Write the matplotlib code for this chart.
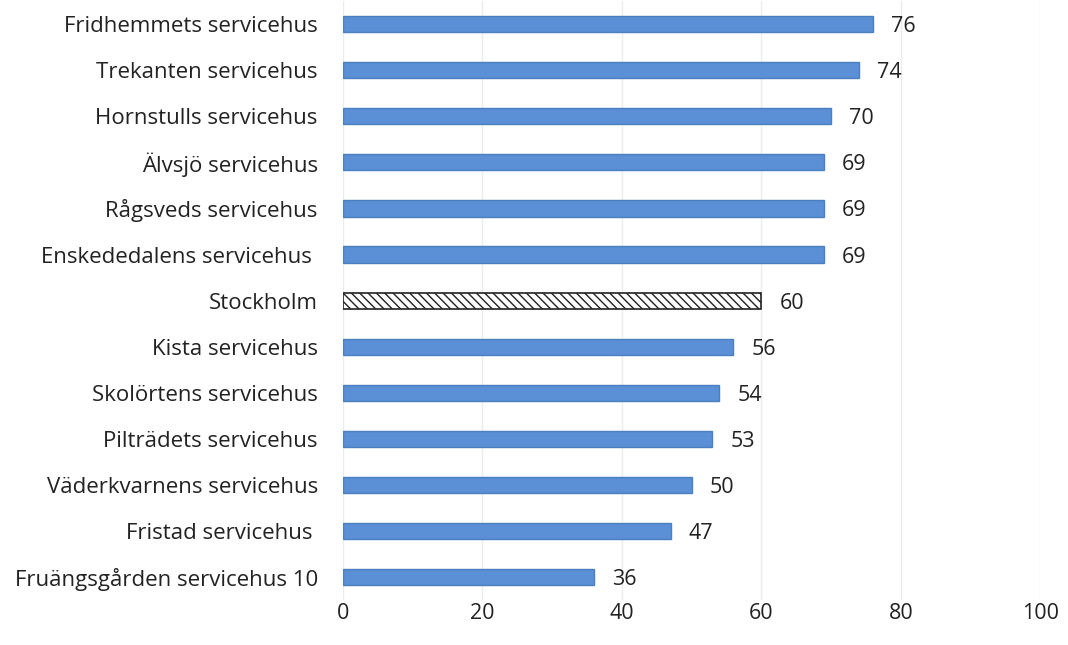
import matplotlib.pyplot as plt

names = [
    'Fridhemmets servicehus', 'Trekanten servicehus', 'Hornstulls servicehus',
    'Älvsjö servicehus', 'Rågsveds servicehus', 'Enskededalens servicehus ',
    'Stockholm', 'Kista servicehus', 'Skolörtens servicehus',
    'Pilträdets servicehus', 'Väderkvarnens servicehus', 'Fristad servicehus ',
    'Fruängsgården servicehus 10',
]
values = [76, 74, 70, 69, 69, 69, 60, 56, 54, 53, 50, 47, 36]
ticks = [0, 20, 40, 60, 80, 100]

plt.rcParams['font.family'] = ['Open Sans', 'DejaVu Sans']

fig = plt.figure(figsize=(10.68, 6.45), dpi=100)
ax = fig.add_axes([0.321, 0.07, 0.653, 0.928])

ypos = list(range(len(names)))[::-1]
for y, name, v in zip(ypos, names, values):
    if name == 'Stockholm':
        ax.barh(y, v, height=0.35, color='white', edgecolor='#222222',
                hatch='\\\\\\\\', linewidth=1.2, zorder=3)
    else:
        ax.barh(y, v, height=0.35, color='#5b8fd6', edgecolor='#4a7fc0',
                linewidth=1, zorder=3)
    ax.text(v + 2.6, y, str(v), va='center_baseline', ha='left', fontsize=15.5,
            color='#222222')

ax.set_xlim(0, 100)
ax.set_ylim(-0.5, len(names) - 0.5)
ax.set_xticks(ticks)
ax.set_yticks(ypos)
ax.set_yticklabels(names, fontsize=16, color='#222222')
for lbl in ax.get_yticklabels():
    lbl.set_verticalalignment('center_baseline')
ax.tick_params(axis='x', labelsize=15.5, colors='#222222', length=0, pad=2)
ax.tick_params(axis='y', length=0, pad=18)
ax.grid(axis='x', color='#ececec', linewidth=1, zorder=0)
for s in ax.spines.values():
    s.set_visible(False)

plt.savefig('out.png', dpi=100, facecolor='white')
